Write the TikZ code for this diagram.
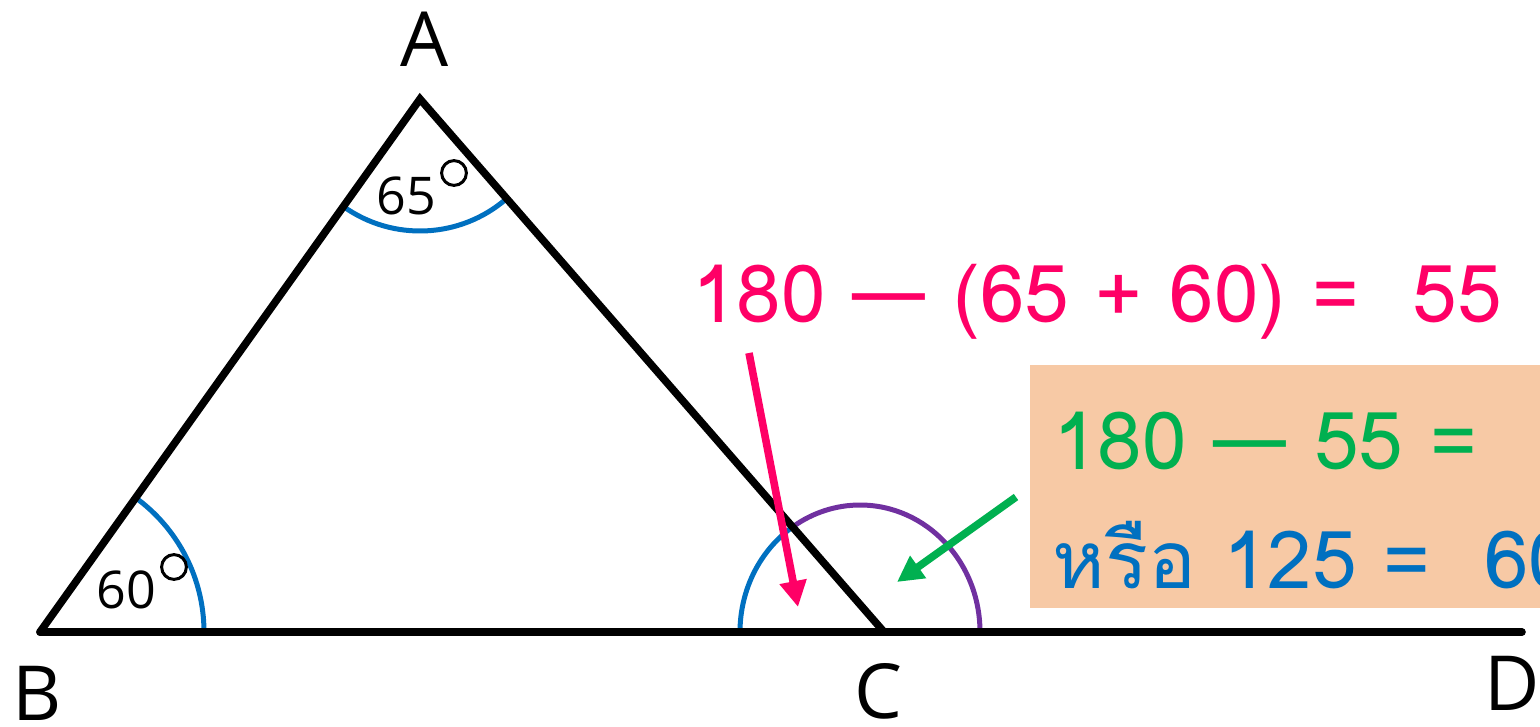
\documentclass[tikz,border=0pt]{standalone}
\usepackage{fontspec}
\setmainfont{Open Sans}
\newfontfamily\thaifont[Script=Thai]{Loma}
\usetikzlibrary{arrows.meta,calc}
\definecolor{pinkc}{RGB}{255,0,102}
\definecolor{greenc}{RGB}{0,176,80}
\definecolor{bluec}{RGB}{0,112,192}
\definecolor{purplec}{RGB}{112,48,160}
\definecolor{boxc}{RGB}{247,201,165}
\tikzset{
  side/.style={line width=3.8pt, line cap=round, line join=miter},
  anglearc/.style={line width=2.5pt},
  degring/.style={line width=1.5pt},
  ptlabel/.style={font=\fontsize{38}{40}\selectfont, inner sep=0pt, anchor=base},
  anglelabel/.style={font=\fontsize{26}{28}\selectfont, inner sep=0pt, anchor=base west},
  eqtext/.style={font=\thaifont\fontsize{40}{44}\selectfont, inner sep=0pt, anchor=base west},
  bigarrow/.style={line width=3.8pt, -{Triangle[length=13pt,width=13pt]}}
}
\begin{document}
\begin{tikzpicture}[x=0.5pt,y=-0.5pt]
\useasboundingbox (0,0) rectangle (1540,727);
\clip (0,0) rectangle (1540,727);
% orange box
\fill[boxc] (1030,365) rectangle (1545,608);
% points
\coordinate (A) at (420,99);
\coordinate (B) at (40,632);
\coordinate (C) at (884,632);
\coordinate (D) at (1522,632);
\coordinate (E) at (860,632);
% angle arcs
\draw[anglearc, bluec] ($(A)+(234.5:66pt)$) arc[start angle=234.5, end angle=311, radius=66pt];
\draw[anglearc, bluec] ($(B)+(82pt,0pt)$) arc[start angle=0, end angle=54.5, radius=83pt];
\draw[anglearc, bluec] ($(E)+(-60pt,0pt)$) arc[start angle=180, end angle=124, x radius=60pt, y radius=63.5pt];
\draw[anglearc, purplec] ($(E)+(60pt,0pt)$) arc[start angle=0, end angle=124, x radius=60pt, y radius=63.5pt];
% triangle and line
\draw[side] (B) -- (A) -- (C);
\draw[side] (B) -- (D);
% labels
\node[ptlabel] (lA) at (425,67) {A};
\node[ptlabel] (lB) at (37,720) {B};
\node[ptlabel] (lC) at (878,718) {C};
\node[ptlabel] (lD) at (1512,710) {D};
\node[anglelabel] (a65) at (376,214) {65};
\draw[degring] (454,173) circle[radius=6.2pt];
\node[anglelabel] (a60) at (96,608) {60};
\draw[degring] (174,567) circle[radius=6.2pt];
% equations
\node[eqtext, text=pinkc] (eq1) at (692,322) {180 — (65 + 60) =~ 55};
\node[eqtext, text=greenc] (eq2) at (1053,469) {180 — 55 =};
\node[eqtext, text=bluec] (eq3) at (1052,588) {หรือ 125 =~ 60};
% arrows
\coordinate (p1) at (749,353);
\coordinate (p2) at (798,607);
\coordinate (g1) at (1016,497);
\coordinate (g2) at (897,582);
\draw[bigarrow, pinkc] (p1) -- (p2);
\draw[bigarrow, greenc] (g1) -- (g2);
\end{tikzpicture}
\end{document}
